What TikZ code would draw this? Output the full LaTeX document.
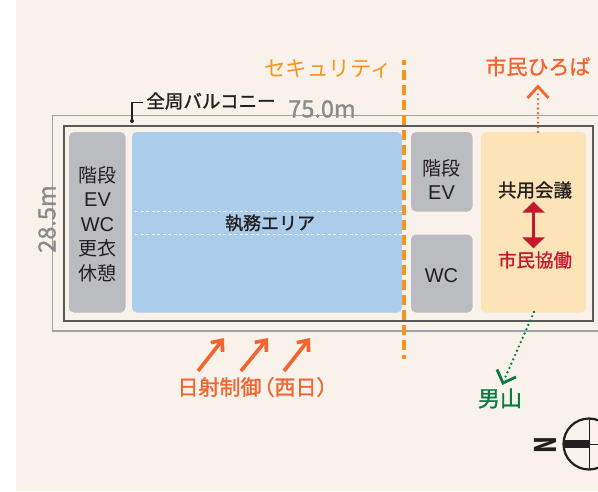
\documentclass[tikz,border=0pt]{standalone}
\usepackage{fontspec}
\setmainfont{Noto Sans CJK JP}
\newfontfamily\medf[FakeBold=1.3]{Noto Sans CJK JP}
\newfontfamily\latf{Liberation Sans}
\definecolor{bgc}{HTML}{F8F2EB}
\definecolor{grayroom}{HTML}{BBBCBF}
\definecolor{blueroom}{HTML}{ABCCEA}
\definecolor{peach}{HTML}{FDE3B8}
\definecolor{orangeline}{HTML}{F7941D}
\definecolor{redorange}{HTML}{F26430}
\definecolor{crimson}{HTML}{C2192F}
\definecolor{greenc}{HTML}{0B7A45}
\definecolor{darkt}{HTML}{231F20}
\definecolor{dimc}{HTML}{8A8B8D}
\usetikzlibrary{arrows.meta}
\tikzset{
  x=1pt,y=-1pt,
  room/.style={rounded corners=5pt,draw=none,inner sep=0pt,outer sep=0pt},
  lab/.style={inner sep=0pt,align=center,text=darkt,font=\fontsize{19}{24.4}\selectfont},
  dimlab/.style={inner sep=0pt,text=dimc,font=\medf\fontsize{23.5}{24}\selectfont},
  whitedash/.style={draw=white,line width=1.6pt,dash pattern=on 3pt off 2.5pt},
  dots/.style={line width=2.6pt,line cap=round,dash pattern=on 0pt off 4.7pt},
  sun/.style={draw=redorange,line width=3.6pt,-{Straight Barb[length=9pt,width=15pt,line width=3.6pt]}},
}
\begin{document}
\begin{tikzpicture}
\useasboundingbox (0,0) rectangle (598,491);
\fill[bgc] (16,0) rectangle (598,491);
% balcony and outer wall
\draw[draw=dimc!80,line width=1.1pt] (598,115.5) -- (52.5,115.5) -- (52.5,331) -- (598,331);
\draw[draw=black!65,line width=2pt] (64,126) rectangle (593,321);
% rooms
\fill[room,fill=grayroom] (69,132) rectangle (125.5,312.5);
\fill[room,fill=blueroom] (132,132) rectangle (402,312.5);
\fill[room,fill=grayroom] (411,132) rectangle (472.5,211.5);
\fill[room,fill=grayroom] (411,234.5) rectangle (472.5,312.5);
\fill[room,fill=peach] (481,132) rectangle (586,312.5);
% white dashed
\draw[whitedash] (135,211.5) -- (402,211.5);
\draw[whitedash] (135,234.5) -- (402,234.5);
% security line
\draw[orangeline,line width=4.4pt,dash pattern=on 10pt off 5pt,dash phase=5pt] (404,60) -- (404,359);
% labels
\node[lab,text=orangeline,font=\fontsize{21.5}{24}\selectfont] (sec) at (328,69) {セキュリティ};
\node[lab,text=redorange,font=\medf\fontsize{21}{24}\selectfont] (plaza) at (538,66.5) {市民ひろば};
\node[lab,font=\medf\fontsize{18.5}{24}\selectfont] (balc) at (211,101) {全周バルコニー};
\node[dimlab] (w75) at (322,109) {75.0m};
\node[dimlab,rotate=90] (h28) at (47,219) {28.5m};
\node[lab,anchor=center] (left) at (97.5,224) {階段\\{\latf\fontsize{20}{24.4}\selectfont EV}\\{\latf\fontsize{20}{24.4}\selectfont WC}\\更衣\\休憩};
\node[lab,font=\medf\fontsize{18}{25}\selectfont] (work) at (270,223) {執務エリア};
\node[lab] (stair) at (441.5,179.5) {階段\\{\latf\fontsize{20}{24.4}\selectfont EV}};
\node[lab,font=\latf\fontsize{20}{25}\selectfont] (wc) at (441.5,275.5) {WC};
\node[lab,font=\medf\fontsize{18.5}{25}\selectfont] (share) at (535,190) {共用会議};
\node[lab,text=crimson,font=\medf\fontsize{18.5}{25}\selectfont] (cit) at (535,260) {市民協働};
\node[lab,text=redorange,font=\medf\fontsize{21}{24}\selectfont] (sunl) at (257.5,387) {日射制御\hspace{-8pt}（西日）};
\node[lab,text=greenc,font=\medf\fontsize{22}{24}\selectfont] (mt) at (500,398.5) {男山};
\node[lab,font=\fontsize{22}{24}\selectfont\bfseries,rotate=90,yscale=1.35] (n) at (545.5,445) {N};
% balcony leader
\coordinate (bdot) at (132,121);
\fill[darkt] (bdot) circle (2pt);
\draw[darkt,line width=1.4pt] (bdot) -- (132,102.5) -- (143,102.5);
% double arrow
\coordinate (da1) at (533.5,201.7);
\coordinate (da2) at (533.5,248.3);
\draw[crimson,line width=3.8pt,{Triangle[length=11pt,width=22pt]}-{Triangle[length=11pt,width=22pt]}] (da1) -- (da2);
% plaza arrow
\coordinate (pa) at (538,86.5);
\coordinate (pb) at (538,132);
\draw[redorange,dots] (pb) -- (538,92);
\draw[redorange,line width=2.8pt] (527.5,98) -- (pa) -- (548.5,98);
% mountain arrow
\coordinate (ma) at (534,312);
\coordinate (mb) at (503,383);
\draw[greenc,dots] (ma) -- (505,378);
\draw[greenc,line width=2.8pt] (497,369.5) -- (mb) -- (516,377);
% sun arrows
\coordinate (s1a) at (198,371); \coordinate (s1b) at (224,338);
\coordinate (s2a) at (241,371); \coordinate (s2b) at (268,338);
\coordinate (s3a) at (284,371); \coordinate (s3b) at (310,338);
\draw[sun] (s1a) -- (s1b);
\draw[sun] (s2a) -- (s2b);
\draw[sun] (s3a) -- (s3b);
% compass
\begin{scope}
\clip (0,0) rectangle (598,491);
\draw[darkt,line width=2.2pt] (589,444) circle (25.5);
\draw[darkt,line width=1pt] (589,419) -- (589,469);
\draw[darkt,line width=1pt] (589,444) -- (614,444);
\fill[darkt] (564,440) rectangle (589,448);
\end{scope}
\end{tikzpicture}
\end{document}
